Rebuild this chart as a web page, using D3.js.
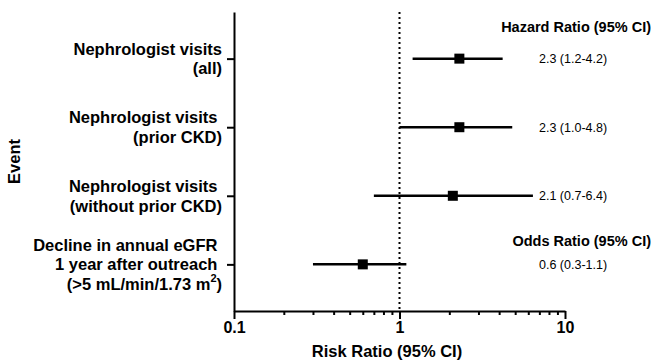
<!DOCTYPE html>
<html>
<head>
<meta charset="utf-8">
<script src="https://cdn.jsdelivr.net/npm/d3@7"></script>
<style>
  body { margin: 0; background: #fff; }
  svg { font-family: Arial, "Liberation Sans", sans-serif; }
  .lbl { white-space: pre; }
</style>
</head>
<body>
<svg width="655" height="364"></svg>
<script>
// rows, top to bottom
let events = [
  ["Nephrologist visits", "(all)"],
  ["Nephrologist visits ", "(prior CKD)"],
  ["Nephrologist visits ", "(without prior CKD)"],
  ["Decline in annual eGFR ", "1 year after outreach ", "(>5 mL/min/1.73 m^2)"]
]
let estimate = [2.3, 2.3, 2.1, 0.6]
let lower = [1.2, 1.0, 0.7, 0.3]
let upper = [4.2, 4.8, 6.4, 1.1]
let major_ticks = [0.1, 1, 10]
let minor_ticks = [0.2, 0.3, 0.4, 0.5, 0.6, 0.7, 0.8, 0.9, 2, 3, 4, 5, 6, 7, 8, 9]
let header_hr = "Hazard Ratio (95% CI)"
let header_or = "Odds Ratio (95% CI)"

let svg = d3.select("svg")
let plot_left = 234, plot_right = 565, plot_top = 12, plot_bottom = 311

let x = d3.scaleLog().domain([0.1, 10]).range([plot_left, plot_right])
let y = d3.scalePoint().domain(d3.range(events.length)).range([plot_top, plot_bottom]).padding(0.68)

// reference line at 1
svg.append("line")
  .attr("x1", x(1)).attr("x2", x(1))
  .attr("y1", plot_top).attr("y2", plot_bottom)
  .attr("stroke", "#000")
  .attr("stroke-width", 2)
  .attr("stroke-dasharray", "2,3")

// minor ticks
let minor = svg.append("g")
  .attr("transform", "translate(0," + plot_bottom + ")")
  .call(d3.axisBottom(x).tickValues(minor_ticks).tickSize(4).tickFormat(""))
minor.select(".domain").remove()
minor.selectAll("line").attr("stroke-width", 2)

// x axis
let xa = svg.append("g")
  .attr("transform", "translate(0," + plot_bottom + ")")
  .call(d3.axisBottom(x).tickValues(major_ticks).tickSizeInner(8).tickSizeOuter(0).tickFormat(d3.format("")))
xa.select(".domain").attr("stroke-width", 2)
xa.selectAll("line").attr("stroke-width", 2)
xa.selectAll("text")
  .attr("font-size", 16).attr("font-weight", "bold")
  .attr("font-family", "Arial, 'Liberation Sans', sans-serif")
  .attr("y", 11)

// y axis
let ya = svg.append("g")
  .attr("transform", "translate(" + plot_left + ",0)")
  .call(d3.axisLeft(y).tickSizeInner(7).tickSizeOuter(0).tickFormat(""))
ya.select(".domain").attr("stroke-width", 2)
ya.selectAll("line").attr("stroke-width", 2)

// category labels
let lineH = 19.5
events.forEach((lines, i) => {
  let t = svg.append("text")
    .attr("class", "lbl")
    .attr("text-anchor", "end")
    .attr("font-size", 16.5)
    .attr("font-weight", "bold")
  let y0 = y(i) - (lines.length - 1) * lineH / 2 + 6
  lines.forEach((s, j) => {
    let parts = s.split("^")
    t.append("tspan").attr("x", 222).attr("y", y0 + j * lineH).text(parts[0])
    if (parts.length > 1) {
      t.append("tspan").attr("font-size", 11).attr("dy", -8).text(parts[1][0])
      t.append("tspan").attr("dy", 8).text(parts[1].slice(1))
    }
  })
})

// CI lines and markers
let rows = d3.range(events.length)
svg.selectAll(".ci").data(rows).enter().append("line")
  .attr("x1", d => x(lower[d])).attr("x2", d => x(upper[d]))
  .attr("y1", d => y(d)).attr("y2", d => y(d))
  .attr("stroke", "#000").attr("stroke-width", 2.5)

let sq = 10
svg.selectAll(".pt").data(rows).enter().append("rect")
  .attr("x", d => x(estimate[d]) - sq / 2)
  .attr("y", d => y(d) - sq / 2)
  .attr("width", sq).attr("height", sq)
  .attr("fill", "#000")

// value labels
svg.selectAll(".val").data(rows).enter().append("text")
  .attr("x", 539)
  .attr("y", d => y(d))
  .attr("dy", "0.35em")
  .attr("font-size", 12.5)
  .text(d => estimate[d].toFixed(1) + " (" + lower[d].toFixed(1) + "-" + upper[d].toFixed(1) + ")")

// headers
svg.append("text")
  .attr("x", 651).attr("y", y(0) - 27)
  .attr("text-anchor", "end").attr("font-size", 14.5).attr("font-weight", "bold")
  .text(header_hr)
svg.append("text")
  .attr("x", 651).attr("y", y(3) - 18)
  .attr("text-anchor", "end").attr("font-size", 14.5).attr("font-weight", "bold")
  .text(header_or)

// axis titles
svg.append("text")
  .attr("x", 387).attr("y", 357)
  .attr("text-anchor", "middle").attr("font-size", 16.5).attr("font-weight", "bold")
  .text("Risk Ratio (95% CI)")
svg.append("text")
  .attr("transform", "translate(20," + (plot_top + plot_bottom) / 2 + ") rotate(-90)")
  .attr("text-anchor", "middle").attr("font-size", 16.5).attr("font-weight", "bold")
  .text("Event")
</script>
</body>
</html>
